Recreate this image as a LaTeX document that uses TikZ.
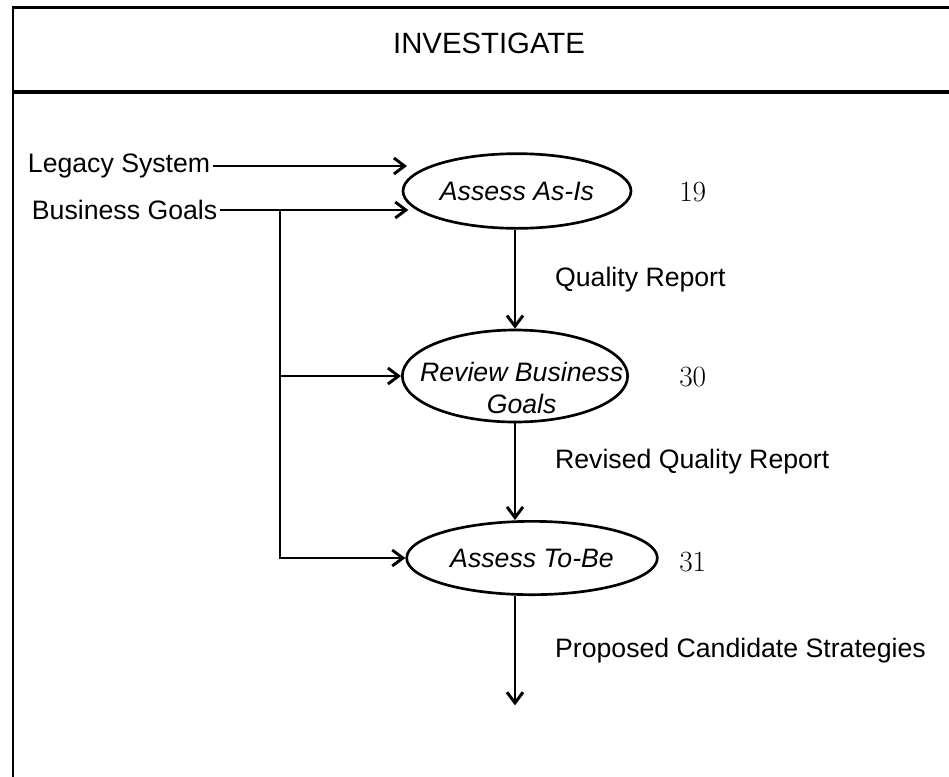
\documentclass[tikz,border=0pt]{standalone}
\usepackage{fontspec}
\newfontfamily\diagfont{Liberation Sans}
\usepackage{tikz}
\usetikzlibrary{arrows.meta, positioning, shapes.geometric}

\begin{document}
\begin{tikzpicture}[
    x=0.75pt, y=-0.75pt,
    process/.style={ellipse, draw, line width=2pt, inner sep=0pt, align=center, font=\diagfont\itshape\fontsize{20}{24}\selectfont},
    ptext/.style={inner sep=0pt, align=center, font=\diagfont\itshape\fontsize{20}{24}\selectfont},
    lbl/.style={inner sep=2pt, font=\diagfont\fontsize{20}{24}\selectfont},
    num/.style={inner sep=0pt, anchor=west, font=\fontsize{22}{26}\selectfont},
    arr/.style={-{Straight Barb[length=8pt, width=12pt]}, line width=2.2pt}
]
\useasboundingbox (0,0) rectangle (949,776);
\clip (0,0) rectangle (949,776);
\draw[line width=2.2pt] (13,7.5) rectangle (962,800);
\draw[line width=3pt] (13,92) -- (962,92);
\node[lbl, font=\diagfont\fontsize{22}{26}\selectfont] (title) at (489,43) {INVESTIGATE};

\node[process, minimum width=171pt, minimum height=56pt] (asis) at (517,191) {Assess As-Is};
\node[process, minimum width=169pt, minimum height=69pt] (rbg) at (515,376) {};
\node[ptext] (rbgtext) at ([xshift=5pt, yshift=-9pt]rbg.center) {Review Business\\Goals};
\node[process, minimum width=188pt, minimum height=55pt] (tobe) at (532,558) {\makebox[0pt]{Assess To-Be}};
\coordinate[below=82pt of tobe.south -| rbg.south] (out);

\node[lbl, anchor=west] (legacy) at (25,166) {Legacy System};
\node[lbl, anchor=west] (goals) at (29,210) {Business Goals};
\coordinate (split) at (280,210);

\node[num] (n19) at (679,192) {19};
\node[num] (n30) at (679,377) {30};
\node[num] (n31) at (679,562) {31};

\draw[arr, shorten >=-4pt] (legacy.east) -- (legacy.east -| asis.west);
\draw[arr, shorten >=-5pt] (goals.east) -- (goals.east -| asis.west);
\draw[arr] (split) |- (rbg.west);
\draw[arr] (split) |- (tobe.west);
\draw[arr] (asis.south -| rbg.north) -- node[lbl, right=27pt] {Quality Report} (rbg.north);
\draw[arr] (rbg.south) -- node[lbl, right=27pt, pos=0.4] {Revised Quality Report} (rbg.south |- tobe.north);
\draw[arr] (tobe.south -| rbg.south) -- node[lbl, right=27pt] {Proposed Candidate Strategies} (out);
\end{tikzpicture}
\end{document}
